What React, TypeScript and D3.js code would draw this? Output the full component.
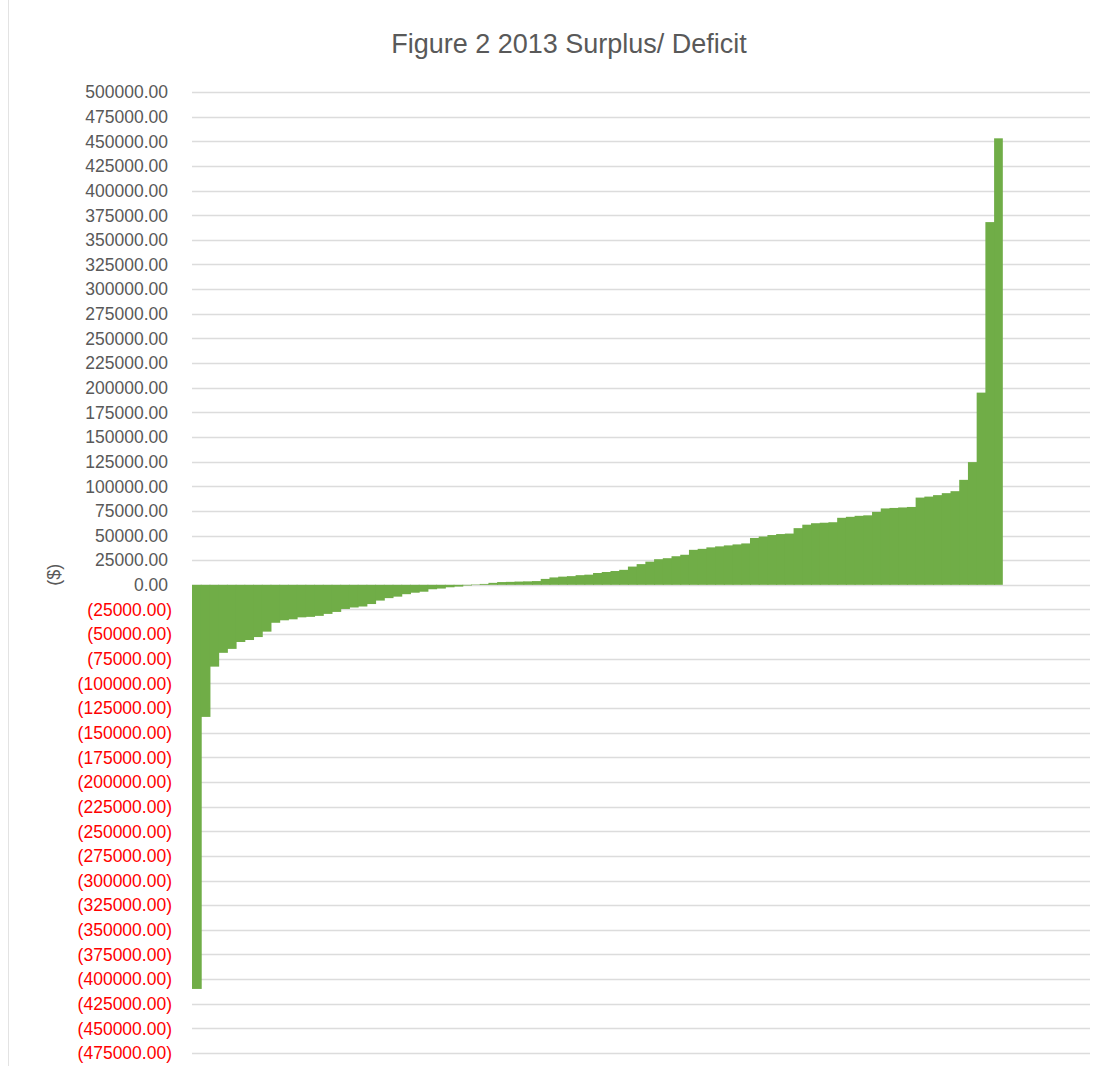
import { useEffect, useRef } from "react";
import * as d3 from "d3";

// surplus / deficit per entity, sorted ascending
const surplus: number[] = [
  -410000, -134000, -83000, -69000, -65000, -58000, -56000, -53000, -47500,
  -38500, -36000, -35000, -33000, -32500, -31500, -29500, -27500, -24500,
  -23000, -22000, -19500, -16000, -13500, -12000, -9500, -8000, -7000, -4500,
  -3800, -2500, -1800, -700, 400, 900, 2000, 2800, 3000, 3300, 3500, 3800,
  6000, 7500, 8300, 8800, 9800, 10300, 12000, 13000, 14000, 15200, 18500,
  21000, 23500, 26000, 27000, 29000, 30500, 35500, 36500, 38000, 39000, 40000,
  41000, 42000, 47500, 49000, 50500, 51500, 52000, 57500, 61000, 62500, 63000,
  63500, 68000, 69000, 70000, 70500, 74000, 77500, 78000, 78500, 79000, 88500,
  89500, 91000, 93000, 95000, 106500, 124500, 195000, 368000, 453000,
];

// empty rows at the end of the sheet still take a category slot
const emptySlots = 10;

const yTicks: number[] = d3.range(-475000, 500001, 25000);

const title = "Figure 2 2013 Surplus/ Deficit";
const yTitle = "($)";

const App = () => {
  const svgRef = useRef<SVGSVGElement | null>(null);

  const width = 1108;
  const height = 1072;

  useEffect(() => {
    if (!svgRef.current) return;
    const svg = d3.select(svgRef.current);
    svg.selectAll("*").remove();

    const margin = { top: 92, right: 18, bottom: 19, left: 192 };
    const font = "'Liberation Sans', Arial, sans-serif";
    const textColor = "#595959";

    const categories = d3.range(surplus.length + emptySlots).map(String);

    const x = d3
      .scaleBand<string>()
      .domain(categories)
      .range([margin.left, width - margin.right])
      .paddingInner(0)
      .paddingOuter(0);

    const y = d3
      .scaleLinear()
      .domain([-475000, 500000])
      .range([height - margin.bottom, margin.top]);

    // chart border on the left
    svg
      .append("line")
      .attr("x1", 8.5)
      .attr("x2", 8.5)
      .attr("y1", 0)
      .attr("y2", height - 6)
      .attr("stroke", "#e3e3e3");

    // gridlines
    svg
      .append("g")
      .selectAll("line")
      .data(yTicks)
      .join("line")
      .attr("x1", margin.left)
      .attr("x2", width - margin.right)
      .attr("y1", (d) => Math.round(y(d)) + 0.5)
      .attr("y2", (d) => Math.round(y(d)) + 0.5)
      .attr("stroke", "#dcdcdc")
      .attr("stroke-width", 1.5);

    // tick labels, negatives red in parentheses
    const fmt = d3.format(".2f");
    svg
      .append("g")
      .selectAll("text")
      .data(yTicks)
      .join("text")
      .attr("x", (d) => (d < 0 ? 172 : 168))
      .attr("y", (d) => y(d))
      .attr("dy", "0.36em")
      .attr("text-anchor", "end")
      .attr("font-family", font)
      .attr("font-size", 17.5)
      .attr("fill", (d) => (d < 0 ? "#ff0000" : textColor))
      .text((d) => (d < 0 ? `(${fmt(-d)})` : fmt(d)));

    // bars (slightly overlapped so no seams show between them)
    svg
      .append("g")
      .selectAll("rect")
      .data(surplus)
      .join("rect")
      .attr("x", (_, i) => x(String(i)) ?? 0)
      .attr("width", (_, i) =>
        i === surplus.length - 1 ? x.bandwidth() : x.bandwidth() + 1
      )
      .attr("y", (d) => y(Math.max(0, d)))
      .attr("height", (d) => Math.abs(y(d) - y(0)))
      .attr("fill", "#70ad47");

    // title
    svg
      .append("text")
      .attr("x", 569)
      .attr("y", 53)
      .attr("text-anchor", "middle")
      .attr("font-family", font)
      .attr("font-size", 27)
      .attr("fill", textColor)
      .text(title);

    // y axis title
    svg
      .append("text")
      .attr("transform", `translate(60,${y(0) - 10}) rotate(-90)`)
      .attr("text-anchor", "middle")
      .attr("font-family", font)
      .attr("font-size", 18)
      .attr("fill", textColor)
      .text(yTitle);
  }, []);

  return (
    <svg
      ref={svgRef}
      width={width}
      height={height}
      style={{ position: "absolute", left: 0, top: 0, background: "#fff" }}
    />
  );
};

export default App;
